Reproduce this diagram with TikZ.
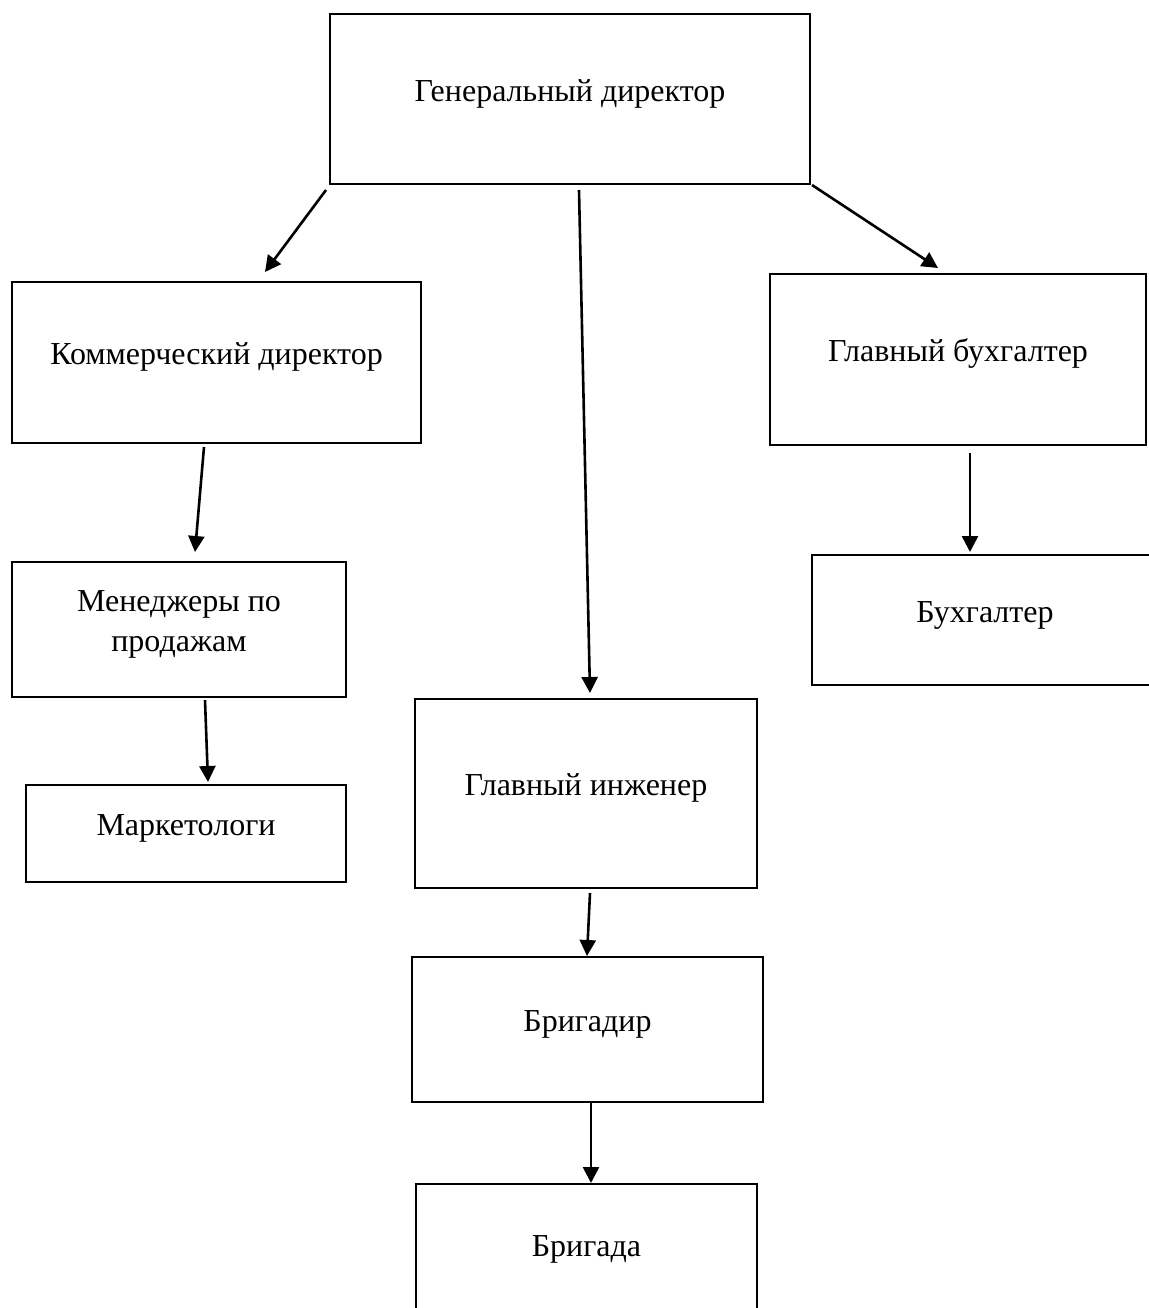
\documentclass[tikz,border=0pt]{standalone}
\usepackage{fontspec}
\setmainfont{Liberation Serif}
\usepackage{tikz}
\usetikzlibrary{arrows.meta,positioning,calc}

\begin{document}
\begin{tikzpicture}[x = .5pt, y = -.5pt,
  box/.style = {draw, line width = 1.4pt, inner sep = 0pt, outer sep = 0pt,
    align = center, text height = 12pt, text depth = 10pt,
    font = \fontsize{16}{20}\selectfont},
  arr/.style = {-{Triangle[length=8pt, width=8pt]}, line width = 1.3pt}]
\useasboundingbox (0,0) rectangle (1149,1308);
\node[box, minimum width = 240pt, minimum height = 85pt] (gen) at (570,99) {Генеральный директор};
\node[box, minimum width = 204.5pt, minimum height = 80.5pt] (kom) at (216.5,362.5) {Коммерческий директор};
\node[box, minimum width = 188pt, minimum height = 85.5pt] (glbuh) at (958,359.5) {Главный бухгалтер};
\node[box, minimum width = 167pt, minimum height = 67.5pt, text height = 32pt] (men) at (179,629.5) {Менеджеры по\\продажам};
\node[box, minimum width = 160pt, minimum height = 48.5pt] (mark) at (186,833.5) {Маркетологи};
\node[box, minimum width = 171pt, minimum height = 94.5pt] (inzh) at (586,793.5) {Главный инженер};
\node[box, minimum width = 175.5pt, minimum height = 72.5pt] (brigadir) at (587.5,1029.5) {Бригадир};
\node[box, minimum width = 170.5pt, minimum height = 70pt] (brigada) at (586.5,1254) {Бригада};
\node[box, minimum width = 173pt, minimum height = 65pt] (buh) at (985,620) {Бухгалтер};
% arrows from the director down
\draw[arr] ([shift={(-4,6)}]gen.south west) -- ([shift={(48.5,-10)}]kom.north);
\draw[arr] ([shift={(9,6)}]gen.south) -- ([shift={(4,-6)}]inzh.north);
\draw[arr] ([shift={(2,1)}]gen.south east) -- ([shift={(-20,-6)}]glbuh.north);
\draw[arr] ([shift={(-12.5,4)}]kom.south) -- ([shift={(16,-10)}]men.north);
\draw[arr] ([shift={(26,3)}]men.south) -- ([shift={(22,-3)}]mark.north);
\draw[arr] ([shift={(4,5)}]inzh.south) -- ([shift={(-0.5,-1)}]brigadir.north);
\draw[arr] ([shift={(3.5,0)}]brigadir.south) -- ([shift={(4.5,-1)}]brigada.north);
\draw[arr] ([shift={(12,8)}]glbuh.south) -- ([shift={(-15,-3)}]buh.north);
\end{tikzpicture}
\end{document}
